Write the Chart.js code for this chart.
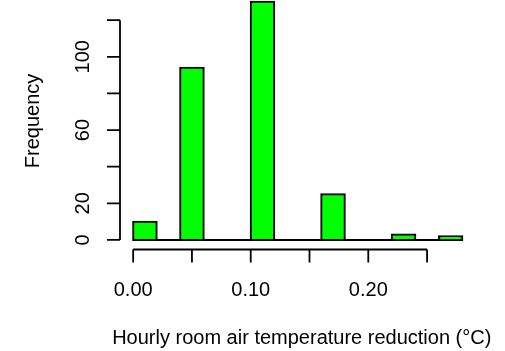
<!DOCTYPE html>
<html>
<head>
<meta charset="utf-8">
<script src="https://cdn.jsdelivr.net/npm/chart.js@4"></script>
<style>
  html, body { margin: 0; padding: 0; background: #fff; }
  canvas { display: block; }
</style>
</head>
<body>
<canvas id="histChart" width="505" height="351"></canvas>
<script>
// histogram bins (edges) and counts
const binEdges = [0.00, 0.02, 0.04, 0.06, 0.08, 0.10, 0.12, 0.14, 0.16, 0.18, 0.20, 0.22, 0.24, 0.26, 0.28];
const counts = [10, 0, 94, 0, 0, 130, 0, 0, 25, 0, 0, 3, 0, 2];

// axis ticks
const xTicks = [0.00, 0.05, 0.10, 0.15, 0.20, 0.25];
const xTickLabels = ['0.00', '', '0.10', '', '0.20', ''];
const yTicks = [0, 20, 40, 60, 80, 100, 120];
const yTickLabels = ['0', '20', '', '60', '', '100', ''];

const xTitle = 'Hourly room air temperature reduction (°C)';
const yTitle = 'Frequency';

const FONT = '20px "Liberation Sans", Arial, sans-serif';

const barData = counts.map((c, i) => ({ x: (binEdges[i] + binEdges[i + 1]) / 2, y: c }));

// R style axes, drawn from the chart scales
const rAxes = {
    id: 'rAxes',
    afterDraw(chart) {
        const c = chart.ctx;
        const xs = chart.scales.x;
        const ys = chart.scales.y;
        const area = chart.chartArea;
        const tick = 13;
        c.save();
        c.strokeStyle = '#000';
        c.fillStyle = '#000';
        c.lineWidth = 1.8;
        c.font = FONT;

        // y axis
        const ax = area.left;
        c.beginPath();
        c.moveTo(ax, ys.getPixelForValue(yTicks[0]));
        c.lineTo(ax, ys.getPixelForValue(yTicks[yTicks.length - 1]));
        yTicks.forEach(v => {
            const py = ys.getPixelForValue(v);
            c.moveTo(ax, py);
            c.lineTo(ax - tick, py);
        });
        c.stroke();
        c.textAlign = 'center';
        c.textBaseline = 'middle';
        yTicks.forEach((v, i) => {
            if (!yTickLabels[i]) return;
            c.save();
            c.translate(ax - 37, ys.getPixelForValue(v));
            c.rotate(-Math.PI / 2);
            c.fillText(yTickLabels[i], 0, 0);
            c.restore();
        });

        // x axis
        const ay = area.bottom;
        c.beginPath();
        c.moveTo(xs.getPixelForValue(xTicks[0]), ay);
        c.lineTo(xs.getPixelForValue(xTicks[xTicks.length - 1]), ay);
        xTicks.forEach(v => {
            const px = xs.getPixelForValue(v);
            c.moveTo(px, ay);
            c.lineTo(px, ay + tick);
        });
        c.stroke();
        xTicks.forEach((v, i) => {
            if (!xTickLabels[i]) return;
            c.fillText(xTickLabels[i], xs.getPixelForValue(v), ay + 41);
        });

        // titles
        c.fillText(xTitle, (area.left + area.right) / 2 + 4, ay + 89);
        c.save();
        c.translate(33, ys.getPixelForValue(Math.max(...counts) / 2));
        c.rotate(-Math.PI / 2);
        c.fillText(yTitle, 0, 0);
        c.restore();
        c.restore();
    }
};

new Chart(document.getElementById('histChart').getContext('2d'), {
    type: 'bar',
    data: {
        datasets: [{
            type: 'bar',
            data: barData,
            backgroundColor: '#00ff00',
            borderColor: '#000000',
            borderWidth: 2,
            borderSkipped: false,
            inflateAmount: 1,
            barPercentage: 1,
            categoryPercentage: 1,
            order: 1
        }, {
            type: 'line',
            data: [{ x: binEdges[0], y: 0 }, { x: binEdges[binEdges.length - 1], y: 0 }],
            borderColor: '#000000',
            borderWidth: 2,
            pointRadius: 0,
            order: 2
        }]
    },
    options: {
        responsive: false,
        animation: false,
        layout: { padding: { left: 120, right: 29.5, top: 0, bottom: 101.5 } },
        plugins: { legend: { display: false }, tooltip: { enabled: false } },
        scales: {
            x: { type: 'linear', display: false, offset: false, min: -0.0112, max: 0.2912 },
            y: { display: false, min: -5.2, max: 131 }
        }
    },
    plugins: [rAxes]
});
</script>
</body>
</html>
